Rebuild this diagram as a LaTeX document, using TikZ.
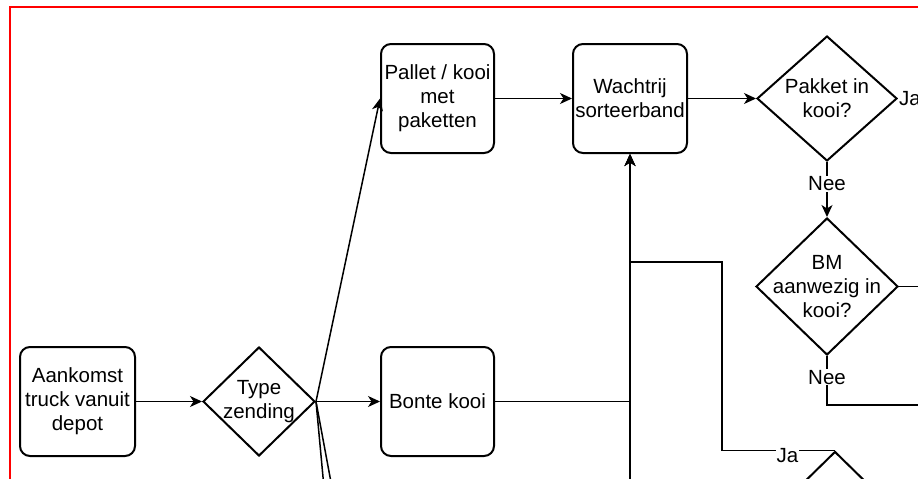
\documentclass[tikz,border=0pt]{standalone}
\usepackage{fontspec}
\setmainfont{Liberation Sans}
\usepackage{tikz}
\usetikzlibrary{positioning, arrows.meta, shapes.geometric}

\begin{document}
\begin{tikzpicture}[x=1pt, y=-1pt, font=\fontsize{20.5}{24}\selectfont,
        box/.style={draw, line width=2pt, rounded corners=10pt, minimum width=113pt, minimum height=109pt},
        keuze/.style={draw, diamond, line width=2pt, inner sep=0pt},
        tekst/.style={align=center},
        flow/.style={line width=1.5pt, -{Stealth[length=12pt, width=11pt, inset=3.5pt]}},
        lijn/.style={line width=1.5pt},
        lbl/.style={fill=white, inner sep=1pt}]
        \useasboundingbox (0,0) rectangle (918,479);
        \clip (0,0) rectangle (918,479);
        \draw [red, line width=2pt] (10,7) rectangle (960,520);

        \node (aankomst) [box, minimum width=115pt, label={[tekst]center:Aankomst\\truck vanuit\\depot}] at (77.5,401.5) {};
        \node (type) [keuze, minimum width=112pt, minimum height=109pt, right=66pt of aankomst, label={[tekst]center:Type\\zending}] {};
        \node (bonte) [box, right=64pt of type, label={[tekst]center:Bonte kooi}] {};
        \node (pallet) [box, above=192pt of bonte, label={[tekst]center:Pallet / kooi\\met\\paketten}] {};
        \node (wachtrij) [box, minimum width=114pt, right=77pt of pallet, label={[tekst]center:Wachtrij\\sorteerband}] {};
        \node (pakket) [keuze, minimum width=140pt, minimum height=125pt, right=68pt of wachtrij, label={[tekst]center:Pakket in\\kooi?}] {};
        \node (bm) [keuze, minimum width=142pt, minimum height=137pt, below=55pt of pakket, label={[tekst]center:BM\\aanwezig in\\kooi?}] {};
        \node (vraag) [keuze, minimum width=140pt, minimum height=137pt] at (835,520) {};

        \coordinate (onder) at (630,520);
        \coordinate (knik) at (722,262);
        \coordinate (uit1) at (327,520);
        \coordinate (uit2) at (338,520);

        % vanuit de truck
        \draw [flow] (aankomst) -- (type);
        \draw [flow] (type.east) -- (pallet.west);
        \draw [flow] (type) -- (bonte);
        \draw [flow] (type.east) -- (uit1);
        \draw [flow] (type.east) -- (uit2);

        % naar de sorteerband
        \draw [flow] (pallet) -- (wachtrij);
        \draw [flow] (bonte) -| (wachtrij);
        \draw [flow] (onder) -- (wachtrij);
        \draw [flow] (vraag.north) -- node [lbl, pos=0.42, yshift=-5pt] {Ja} (vraag.north -| knik) |- (wachtrij.south |- knik) -- (wachtrij);
        \draw [flow] (wachtrij) -- (pakket);

        % beslissingen
        \draw [lijn] (pakket.east) -- ++(60,0) node [lbl, pos=0.2] {Ja};
        \draw [flow] (pakket) -- node [lbl, pos=0.4] {Nee} (bm);
        \draw [lijn] (bm.east) -- ++(40,0);
        \draw [lijn] (bm.south) -- node [lbl, pos=0.43] {Nee} ++(0,49) -- ++(120,0);
    \end{tikzpicture}
\end{document}
